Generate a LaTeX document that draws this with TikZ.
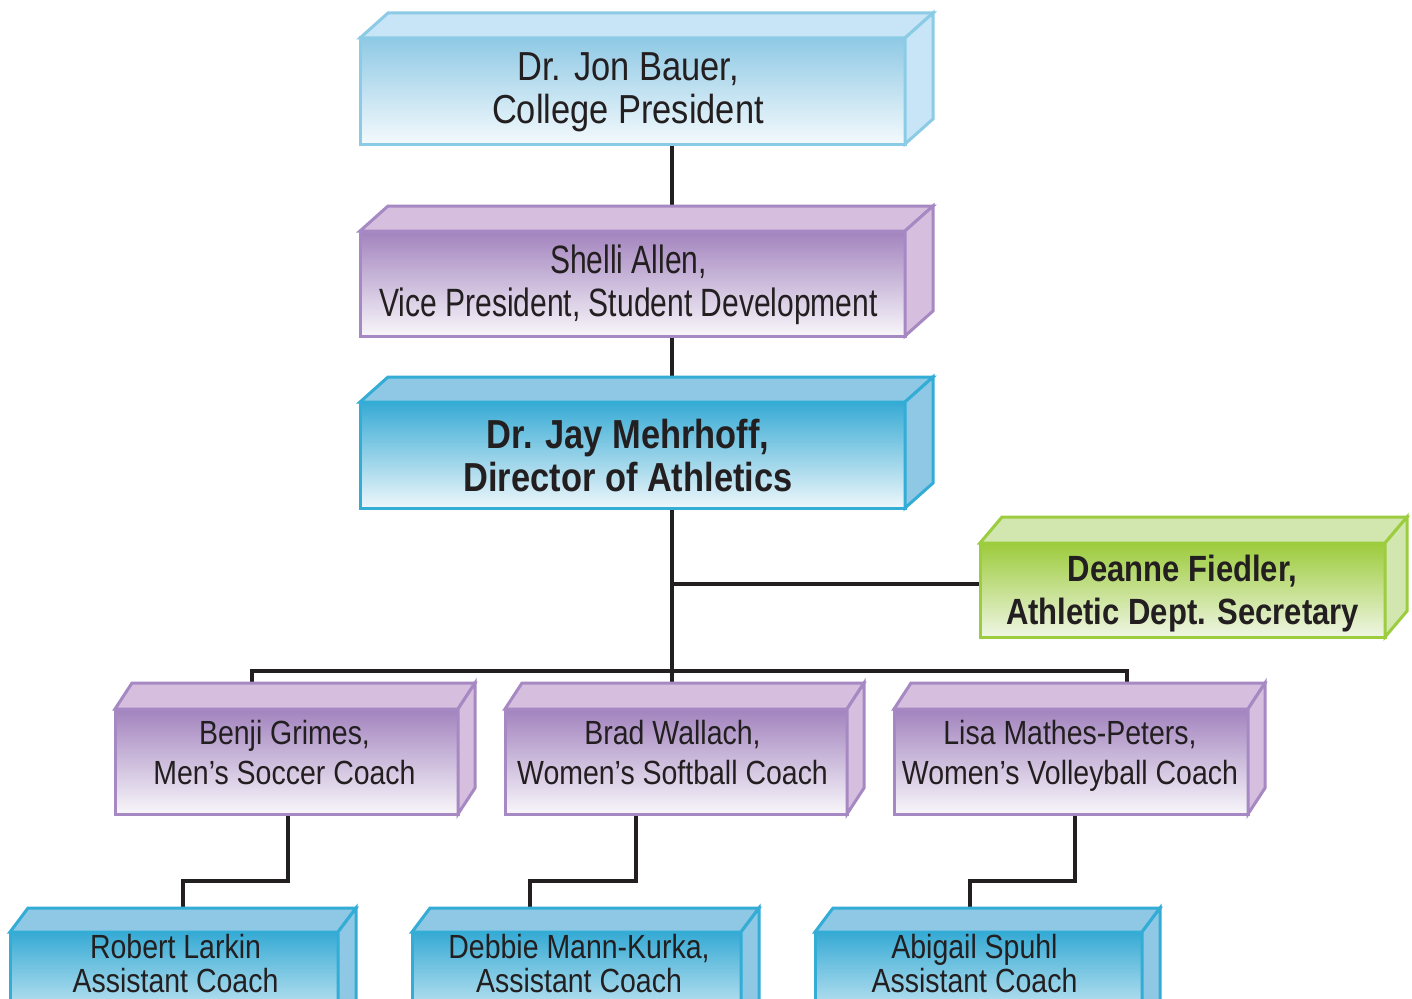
\documentclass[tikz,border=0pt]{standalone}
\usepackage{fontspec}
\setmainfont{Liberation Sans}[FakeStretch=0.85]
\newfontfamily\shellifont{Liberation Sans}[FakeStretch=0.76]
\usetikzlibrary{calc}
\pgfdeclarelayer{bg}
\pgfdeclarelayer{links}
\pgfsetlayers{bg,links,main}

\definecolor{ink}{HTML}{231F20}
% light blue
\definecolor{lbB}{HTML}{8CCBE6}
\definecolor{lbT}{HTML}{8FC9E5}
\definecolor{lbW}{HTML}{F4FAFD}
\definecolor{lbF}{HTML}{C7E5F6}
% purple
\definecolor{puB}{HTML}{A689C3}
\definecolor{puT}{HTML}{A283BE}
\definecolor{puW}{HTML}{F8F6FA}
\definecolor{puF}{HTML}{D6BFDE}
% dark blue
\definecolor{dbB}{HTML}{33ACD6}
\definecolor{dbT}{HTML}{36AAD4}
\definecolor{dbW}{HTML}{EEF7FB}
\definecolor{dbF}{HTML}{8EC8E4}
% green
\definecolor{grB}{HTML}{9CCD3E}
\definecolor{grT}{HTML}{9CCB3B}
\definecolor{grW}{HTML}{EFF6E4}
\definecolor{grF}{HTML}{D2E6AF}

\tikzset{
  front/.style={inner sep=0pt, outer sep=0pt, line width=3pt},
  lbfront/.style={front, draw=lbB, top color=lbT, bottom color=lbW},
  pufront/.style={front, draw=puB, top color=puT, bottom color=puW},
  dbfront/.style={front, draw=dbB, top color=dbT, bottom color=dbW},
  grfront/.style={front, draw=grB, top color=grT, bottom color=grW},
  lbface/.style={fill=lbF, draw=lbB, line width=3pt},
  puface/.style={fill=puF, draw=puB, line width=3pt},
  dbface/.style={fill=dbF, draw=dbB, line width=3pt},
  grface/.style={fill=grF, draw=grB, line width=3pt},
  txt/.style={align=center, text=ink, inner sep=0pt, outer sep=0pt, text depth=0pt},
  bigtxt/.style={txt, font=\fontsize{40.5}{43}\selectfont},
  boldtxt/.style={txt, font=\fontsize{40.5}{43}\selectfont\bfseries},
  shellitxt/.style={txt, font=\shellifont\fontsize{39.5}{43}\selectfont},
  greentxt/.style={txt, font=\fontsize{36.5}{43}\selectfont\bfseries},
  midtxt/.style={txt, font=\fontsize{33.5}{40}\selectfont},
  smalltxt/.style={txt, font=\fontsize{33.5}{34}\selectfont},
  link/.style={draw=ink, line width=3.3pt},
}

\newcommand\orgfaces[4]{%
  \path[#4] (#1.north west) -- ++(#2,#3) -- ($(#1.north east)+(#2,#3)$) -- (#1.north east) -- cycle;
  \path[#4] (#1.north east) -- ++(#2,#3) -- ($(#1.south east)+(#2,#3)$) -- (#1.south east) -- cycle;
}

\begin{document}
\begin{tikzpicture}[x=1pt,y=-1pt]
\useasboundingbox (0,0) rectangle (1412,998);
\clip (0,0) rectangle (1412,998);
\begin{pgfonlayer}{bg}
\fill[white] (0,0) rectangle (1412,998);
\end{pgfonlayer}

% front faces
\node[lbfront, minimum width=545pt, minimum height=106pt] (pres) at (632.5,91) {};
\orgfaces{pres}{28}{-25}{lbface}
\node[pufront, minimum width=545pt, minimum height=105pt] (vp) at (632.5,283.5) {};
\orgfaces{vp}{28}{-25}{puface}
\node[dbfront, minimum width=545pt, minimum height=106pt] (jay) at (632.5,455) {};
\orgfaces{jay}{28}{-25}{dbface}
\node[grfront, minimum width=405pt, minimum height=94pt] (green) at (1182.5,590) {};
\orgfaces{green}{22}{-26}{grface}

\node[pufront, minimum width=343pt, minimum height=105pt] (benji) at (286.5,761.5) {};
\orgfaces{benji}{17}{-26}{puface}
\node[pufront, minimum width=342pt, minimum height=105pt] (brad) at (676,761.5) {};
\orgfaces{brad}{17}{-26}{puface}
\node[pufront, minimum width=354pt, minimum height=105pt] (lisa) at (1071,761.5) {};
\orgfaces{lisa}{17}{-26}{puface}

\node[dbfront, minimum width=328pt, minimum height=106pt] (robert) at (174,985) {};
\orgfaces{robert}{18}{-24}{dbface}
\node[dbfront, minimum width=329pt, minimum height=106pt] (debbie) at (576.5,985) {};
\orgfaces{debbie}{18}{-24}{dbface}
\node[dbfront, minimum width=327pt, minimum height=106pt] (abigail) at (978.5,985) {};
\orgfaces{abigail}{18}{-24}{dbface}

% texts
\node[bigtxt] (pres-t) at (628,88) {Dr. Jon Bauer,\\College President};
\node[shellitxt] (vp-t) at (628.5,281) {Shelli Allen,\\Vice President, Student Development};
\node[boldtxt] (jay-t) at (628,455.5) {Dr. Jay Mehrhoff,\\Director of Athletics};
\node[greentxt] (green-t) at (1182.5,589.5) {Deanne Fiedler,\\Athletic Dept. Secretary};
\node[midtxt] (benji-t) at (284.5,752.5) {Benji Grimes,\\Men’s Soccer Coach};
\node[midtxt] (brad-t) at (672.5,752.5) {Brad Wallach,\\Women’s Softball Coach};
\node[midtxt] (lisa-t) at (1070,752.5) {Lisa Mathes-Peters,\\Women’s Volleyball Coach};
\node[smalltxt] (robert-t) at (175.5,963) {Robert Larkin\\Assistant Coach};
\node[smalltxt] (debbie-t) at (579,963) {Debbie Mann-Kurka,\\Assistant Coach};
\node[smalltxt] (abigail-t) at (974.5,963) {Abigail Spuhl\\Assistant Coach};

% connectors
\begin{pgfonlayer}{links}
\coordinate (bus) at (672,671);
\coordinate (gw) at ([yshift=6pt]green.west);
\draw[link] ([xshift=39.5pt]pres.south) -- ([xshift=39.5pt]vp.north);
\draw[link] ([xshift=39.5pt]vp.south) -- ([xshift=39.5pt]jay.north);
\draw[link] ([xshift=39.5pt]jay.south) -- ([xshift=-4pt]brad.north);
\draw[link] (gw) -- (gw -| bus);
\draw[link] ([xshift=-34.5pt]benji.north) |- (bus) -| ([xshift=56pt]lisa.north);
\draw[link] ([xshift=1.5pt]benji.south) -- ++(0,67) -| ([xshift=9pt]robert.north);
\draw[link] ([xshift=-40pt]brad.south) -- ++(0,67) -| ([xshift=-46.5pt]debbie.north);
\draw[link] ([xshift=4pt]lisa.south) -- ++(0,67) -| ([xshift=-8.5pt]abigail.north);
\end{pgfonlayer}
\end{tikzpicture}
\end{document}
